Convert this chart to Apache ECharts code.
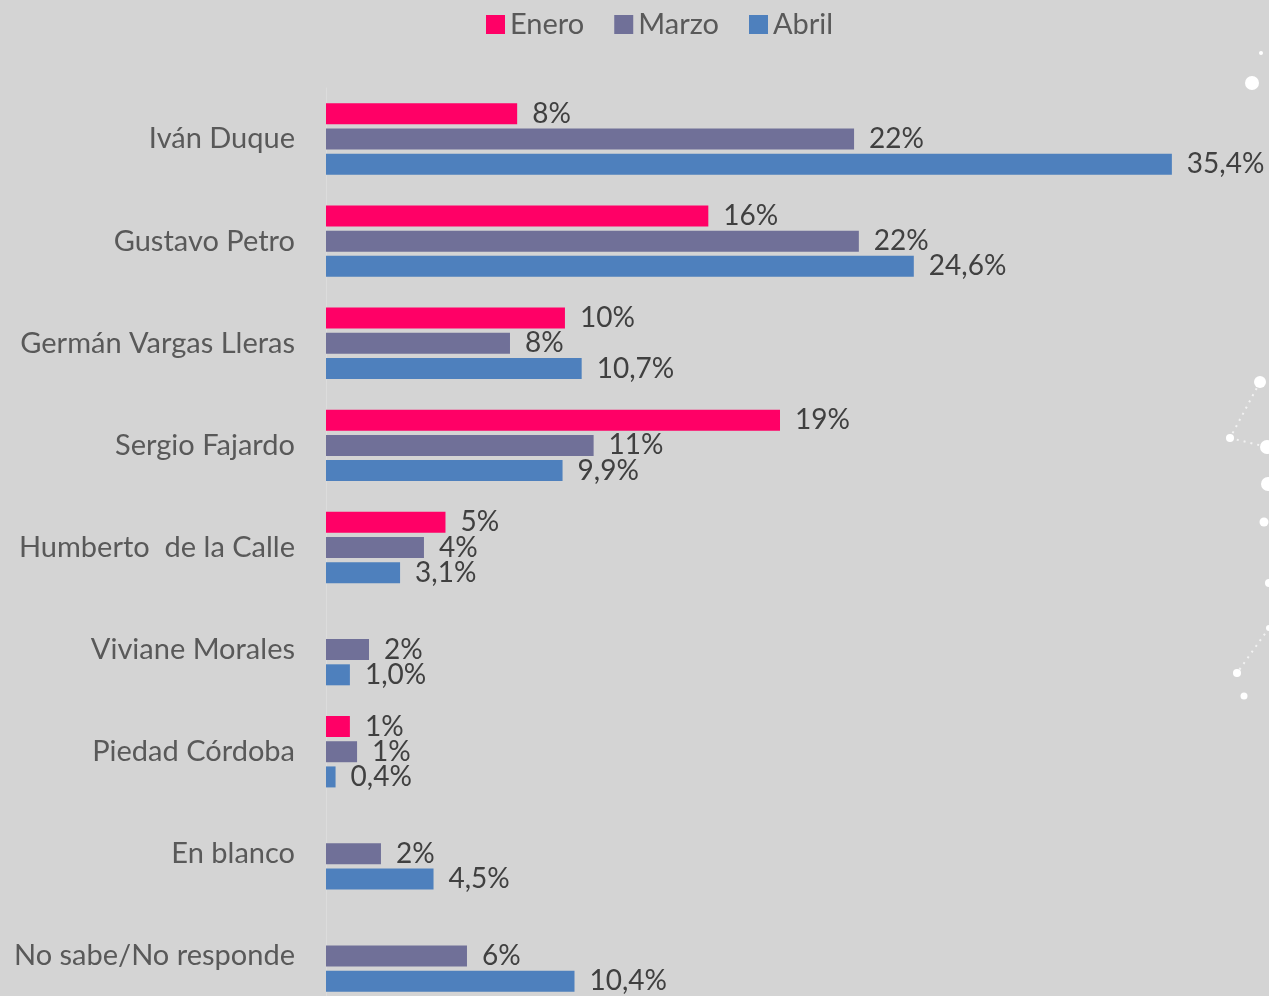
<!DOCTYPE html>
<html>
<head>
<meta charset="utf-8">
<title>Encuesta</title>
<script src="https://cdn.jsdelivr.net/npm/echarts@6/dist/echarts.min.js"></script>
<style>
  html, body { margin: 0; padding: 0; background: #d4d4d4; }
  #chart { width: 1269px; height: 996px; }
</style>
</head>
<body>
<div id="chart"></div>
<script>
// candidatos, de arriba hacia abajo
const candidatos = [
  'Iván Duque',
  'Gustavo Petro',
  'Germán Vargas Lleras',
  'Sergio Fajardo',
  'Humberto  de la Calle',
  'Viviane Morales',
  'Piedad Córdoba',
  'En blanco',
  'No sabe/No responde',
];
const meses = ['Enero', 'Marzo', 'Abril'];

// intención de voto (%), null = sin dato
const enero = [8, 16, 10, 19, 5, null, 1, null, null];
const marzo = [22.1, 22.3, 7.7, 11.2, 4.1, 1.8, 1.3, 2.3, 5.9];
const abril = [35.4, 24.6, 10.7, 9.9, 3.1, 1.0, 0.4, 4.5, 10.4];

const colores = ['#ff0066', '#707098', '#4e80bd'];
const FONT = 'Lato, "Open Sans", sans-serif';

const pct = (v, dec) => v.toFixed(dec).replace('.', ',') + '%';

function serie(name, data, color, dec) {
  return {
    name,
    type: 'bar',
    data,
    barWidth: 21,
    barGap: '20%',
    itemStyle: { color },
    label: {
      show: true,
      position: 'right',
      distance: 15,
      color: '#404040',
      fontFamily: FONT,
      fontSize: 28,
      formatter: p => pct(p.value, dec),
    },
  };
}

// puntos decorativos del fondo
const puntos = [
  [1252, 83, 7], [1261, 53, 2], [1260, 382, 6], [1230, 438, 4],
  [1267, 447, 7], [1268, 484, 7], [1264, 522, 4.5], [1269, 583, 4],
  [1269, 628, 3], [1237, 673, 4], [1244, 696, 3.5],
];
const trazos = [
  [1260, 382, 1230, 438], [1230, 438, 1267, 447], [1269, 628, 1237, 673],
];

const chart = echarts.init(document.getElementById('chart'));
chart.setOption({
  backgroundColor: '#d4d4d4',
  animation: false,
  color: colores,
  textStyle: { fontFamily: FONT },
  legend: {
    data: meses,
    top: 5,
    left: 481,
    icon: 'rect',
    itemWidth: 19,
    itemHeight: 19,
    itemGap: 30,
    textStyle: { color: '#595959', fontSize: 29, fontFamily: FONT },
  },
  grid: { left: 326, top: 88, width: 908, height: 919, outerBoundsMode: 'none' },
  xAxis: {
    type: 'value',
    min: 0,
    max: 38,
    show: false,
    splitLine: { show: false },
  },
  yAxis: {
    type: 'category',
    data: candidatos,
    inverse: true,
    axisTick: { show: false },
    axisLine: { show: true, lineStyle: { color: '#dcdcdc', width: 1 } },
    axisLabel: { color: '#595959', fontSize: 29, fontFamily: FONT, margin: 31 },
  },
  series: [
    serie(meses[0], enero, colores[0], 0),
    serie(meses[1], marzo, colores[1], 0),
    serie(meses[2], abril, colores[2], 1),
  ],
  graphic: [
    ...trazos.map(([x1, y1, x2, y2]) => ({
      type: 'line',
      silent: true,
      shape: { x1, y1, x2, y2 },
      style: { stroke: 'rgba(255,255,255,0.7)', lineWidth: 2, lineDash: [2, 5] },
    })),
    ...puntos.map(([cx, cy, r]) => ({
      type: 'circle',
      silent: true,
      shape: { cx, cy, r },
      style: { fill: '#ffffff' },
    })),
  ],
});
</script>
</body>
</html>
